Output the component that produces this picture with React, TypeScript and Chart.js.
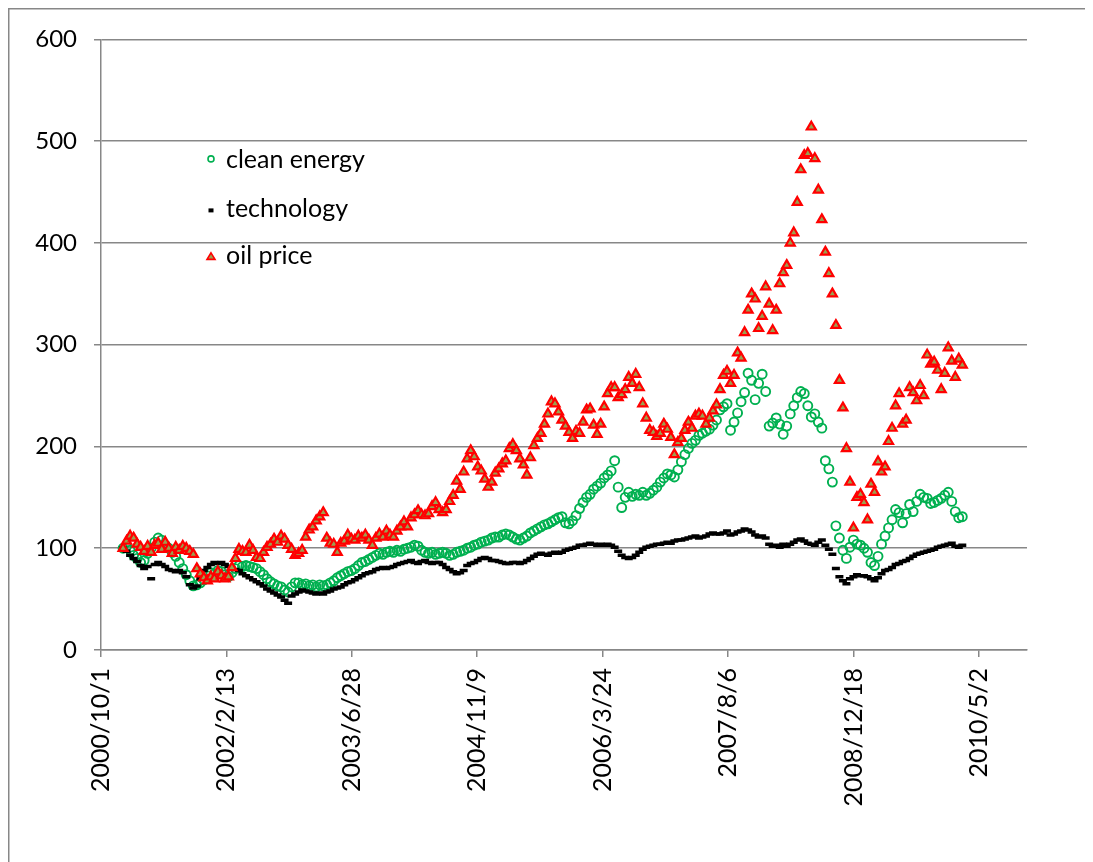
import React, { useEffect, useRef } from "react";
import { Chart, registerables } from "chart.js";

Chart.register(...registerables);

// ---------- data ----------
const axisStartDate = "2000-10-01";
const firstSampleDate = "2000-12-28";
const sampleStepDays = 14;
const xTickStepDays = 500;
const xAxisMaxDays = 3692;
const xTickLabels = [
  "2000/10/1",
  "2002/2/13",
  "2003/6/28",
  "2004/11/9",
  "2006/3/24",
  "2007/8/6",
  "2008/12/18",
  "2010/5/2",
];
const yMin = 0;
const yMax = 600;
const yStep = 100;
const seriesNames = ["clean energy", "technology", "oil price"];

const cleanEnergy = [
  100, 102, 98, 93, 90, 86, 88, 95, 100, 106,
  110, 108, 103, 100, 96, 92, 86, 80, 74, 68,
  63, 64, 66, 69, 73, 76, 75, 78, 77, 74,
  72, 76, 80, 83, 82, 83, 82, 81, 80, 77,
  74, 70, 67, 65, 63, 62, 59, 57, 62, 66,
  66, 64, 65, 63, 64, 62, 64, 63, 64, 66,
  68, 71, 73, 75, 77, 78, 80, 83, 86, 87,
  89, 91, 93, 95, 94, 96, 97, 96, 98, 97,
  99, 100, 101, 103, 102, 98, 96, 95, 96, 94,
  95, 96, 95, 93, 94, 96, 97, 98, 100, 101,
  103, 104, 106, 107, 108, 110, 111, 111, 113, 114,
  113, 111, 109, 108, 110, 112, 115, 117, 119, 121,
  123, 124, 126, 128, 130, 131, 125, 124, 127, 132,
  139, 145, 150, 153, 158, 161, 164, 169, 172, 176,
  186, 160, 140, 150, 155, 151, 153, 152, 155, 152,
  154, 157, 160, 165, 169, 173, 172, 170, 177, 185,
  192, 198, 203, 206, 211, 213, 215, 217, 221, 226,
  236, 239, 242, 216, 224, 233, 244, 253, 272, 265,
  246, 262, 271, 254, 220, 223, 228, 222, 212, 220,
  232, 240, 248, 254, 252, 240, 229, 232, 224, 218,
  186, 178, 165, 122, 110, 98, 90, 101, 108, 104,
  103, 100, 96, 86, 83, 92, 104, 112, 120, 128,
  138, 135, 125, 134, 143, 136, 146, 153, 150, 149,
  144, 145, 147, 149, 152, 155, 146, 136, 130, 131,
];

const technology = [
  100, 97, 93, 90, 87, 83, 80, 82, 70, 84,
  86, 84, 82, 79, 78, 77, 78, 76, 72, 64,
  61, 63, 70, 78, 81, 84, 86, 85, 86, 84,
  82, 80, 79, 78, 75, 73, 71, 69, 67, 65,
  63, 60, 58, 56, 54, 52, 49, 46, 53, 55,
  57, 59, 58, 57, 56, 55, 56, 55, 57, 58,
  60, 61, 62, 64, 66, 67, 69, 71, 73, 75,
  76, 77, 79, 80, 81, 80, 81, 82, 84, 85,
  86, 87, 88, 86, 85, 87, 88, 86, 85, 86,
  86, 84, 81, 79, 77, 75, 76, 78, 83, 85,
  86, 88, 90, 91, 90, 88, 88, 87, 86, 85,
  85, 86, 86, 85, 86, 88, 90, 92, 94, 95,
  94, 93, 95, 96, 95, 96, 98, 99, 100, 101,
  103, 103, 104, 105, 104, 103, 104, 103, 104, 103,
  101, 97, 93, 91, 90, 91, 93, 96, 99, 101,
  102, 103, 104, 104, 105, 106, 105, 107, 108, 108,
  109, 110, 111, 112, 110, 111, 112, 114, 115, 114,
  114, 115, 117, 113, 114, 116, 117, 119, 118, 116,
  113, 111, 112, 110, 104, 102, 103, 101, 104, 102,
  104, 106, 108, 109, 107, 105, 104, 103, 106, 108,
  103, 99, 94, 80, 72, 68, 65, 70, 72, 74,
  73, 73, 72, 70, 68, 71, 75, 78, 79, 81,
  84, 85, 87, 88, 90, 92, 94, 95, 96, 97,
  98, 99, 101, 102, 103, 104, 105, 102, 101, 103,
];

const oilPrice = [
  100, 107, 112, 110, 104, 101, 97, 102, 96, 103,
  105, 99, 106, 100, 95, 101, 98, 102, 100, 97,
  94, 80, 75, 71, 68, 72, 70, 77, 73, 70,
  72, 81, 90, 99, 97, 96, 103, 98, 91, 90,
  96, 101, 104, 109, 106, 112, 109, 103, 99, 93,
  95, 98, 111, 118, 121, 127, 131, 135, 110, 105,
  104, 96, 105, 107, 113, 109, 108, 112, 110, 113,
  108, 103, 110, 114, 111, 117, 113, 111, 117, 121,
  126, 121, 130, 133, 137, 133, 132, 134, 141, 145,
  138, 135, 138, 146, 152, 166, 158, 175, 188, 196,
  190, 180, 176, 168, 160, 165, 174, 178, 183, 186,
  198, 202, 196, 188, 182, 172, 189, 201, 208, 213,
  222, 232, 244, 242, 234, 226, 220, 214, 208, 215,
  213, 224, 236, 237, 221, 212, 222, 239, 252, 258,
  258, 248, 251, 256, 268, 262, 271, 258, 242, 228,
  216, 214, 210, 213, 222, 217, 209, 192, 204, 208,
  216, 224, 218, 230, 232, 230, 222, 228, 235, 241,
  256, 270, 274, 262, 270, 292, 287, 312, 334, 350,
  345, 316, 328, 357, 340, 314, 334, 360, 371, 378,
  400, 410, 440, 472, 486, 488, 514, 483, 452, 423,
  391, 370, 350, 319, 265, 238, 198, 165, 120, 150,
  153, 145, 128, 163, 155, 185, 175, 180, 205, 218,
  240, 252, 222, 226, 258, 253, 245, 260, 250, 290,
  281, 283, 275, 256, 272, 297, 284, 268, 286, 280,
];

// ---------- styles ----------
const CANVAS_W = 1085;
const CANVAS_H = 854;
const FONT = "Lato, 'Open Sans', 'Liberation Sans', sans-serif";
const GRID_COLOR = "#878787";
const CLEAN_COLOR = "#00B050";
const TECH_COLOR = "#000000";
const OIL_BORDER = "#FF0000";
const OIL_FILL = "#9BA050";

const DAY_MS = 86400000;
const dayOffset = (iso: string) =>
  Math.round((Date.parse(iso) - Date.parse(axisStartDate)) / DAY_MS);

function toPoints(values: number[]) {
  const start = dayOffset(firstSampleDate);
  return values.map((v, i) => ({ x: start + i * sampleStepDays, y: v }));
}

const frameBorder = {
  id: "frameBorder",
  beforeDraw(chart: any) {
    const { ctx, width, height } = chart;
    ctx.save();
    ctx.strokeStyle = GRID_COLOR;
    ctx.lineWidth = 1.5;
    ctx.beginPath();
    ctx.moveTo(0.75, height);
    ctx.lineTo(0.75, 0.75);
    ctx.lineTo(width, 0.75);
    ctx.stroke();
    ctx.restore();
  },
};

const insideLegend = {
  id: "insideLegend",
  afterDraw(chart: any) {
    const { ctx, chartArea } = chart;
    const mx = chartArea.left + 110;
    const ys = [120.5, 170, 217].map((d) => chartArea.top + d);
    ctx.save();
    ctx.strokeStyle = CLEAN_COLOR;
    ctx.lineWidth = 1.6;
    ctx.beginPath();
    ctx.arc(mx, ys[0] - 1, 3, 0, Math.PI * 2);
    ctx.stroke();
    ctx.fillStyle = TECH_COLOR;
    ctx.fillRect(mx - 2.5, ys[1] - 1, 5, 4);
    ctx.beginPath();
    ctx.moveTo(mx, ys[2] - 3.5);
    ctx.lineTo(mx + 4, ys[2] + 3);
    ctx.lineTo(mx - 4, ys[2] + 3);
    ctx.closePath();
    ctx.fillStyle = OIL_FILL;
    ctx.fill();
    ctx.strokeStyle = OIL_BORDER;
    ctx.lineWidth = 1.6;
    ctx.stroke();
    ctx.fillStyle = "#000";
    ctx.font = `25px ${FONT}`;
    ctx.textBaseline = "middle";
    ctx.textAlign = "left";
    seriesNames.forEach((name, k) => ctx.fillText(name, mx + 15, ys[k]));
    ctx.restore();
  },
};

export default function App() {
  const canvasRef = useRef<HTMLCanvasElement | null>(null);

  useEffect(() => {
    const canvas = canvasRef.current;
    if (!canvas) return;
    const chart = new Chart(canvas, {
      type: "scatter",
      data: {
        datasets: [
          {
            label: seriesNames[2],
            data: toPoints(oilPrice),
            order: 0,
            pointStyle: "triangle",
            pointRadius: 5.2,
            borderWidth: 2.2,
            borderColor: OIL_BORDER,
            backgroundColor: OIL_FILL,
            showLine: false,
          },
          {
            label: seriesNames[1],
            data: toPoints(technology),
            order: 1,
            pointStyle: "line",
            pointRadius: 4,
            borderWidth: 3.5,
            borderColor: TECH_COLOR,
            backgroundColor: TECH_COLOR,
            showLine: false,
          },
          {
            label: seriesNames[0],
            data: toPoints(cleanEnergy),
            order: 2,
            pointStyle: "circle",
            pointRadius: 4.5,
            borderWidth: 1.9,
            borderColor: CLEAN_COLOR,
            backgroundColor: "rgba(0,0,0,0)",
            showLine: false,
          },
        ],
      },
      options: {
        responsive: false,
        animation: false,
        devicePixelRatio: 1,
        events: [],
        layout: { padding: { top: 28.5, right: 66, left: 0, bottom: 0 } },
        plugins: {
          legend: { display: false },
          tooltip: { enabled: false },
          title: { display: false },
        },
        scales: {
          x: {
            type: "linear",
            min: 0,
            max: xAxisMaxDays,
            afterFit: (scale: any) => {
              scale.height = 212;
            },
            afterBuildTicks: (scale: any) => {
              scale.ticks = xTickLabels.map((_, k) => ({ value: k * xTickStepDays }));
            },
            ticks: {
              autoSkip: false,
              minRotation: 90,
              maxRotation: 90,
              padding: 11,
              color: "#000",
              font: { family: FONT, size: 25 },
              callback: (v: any) => {
                const n = Math.round(Number(v) / xTickStepDays);
                return xTickLabels[n] ?? "";
              },
            },
            grid: {
              drawOnChartArea: false,
              drawTicks: true,
              tickLength: 7,
              color: GRID_COLOR,
              lineWidth: 1.5,
            },
            border: { display: true, color: GRID_COLOR, width: 1.5 },
          },
          y: {
            type: "linear",
            min: yMin,
            max: yMax,
            afterFit: (scale: any) => {
              scale.width = 93;
            },
            ticks: {
              stepSize: yStep,
              padding: 17,
              color: "#000",
              font: { family: FONT, size: 24 },
            },
            grid: {
              color: GRID_COLOR,
              lineWidth: 1.5,
              tickLength: 7,
              drawTicks: true,
            },
            border: { display: true, color: GRID_COLOR, width: 1.5 },
          },
        },
      },
      plugins: [frameBorder, insideLegend],
    } as any);
    return () => chart.destroy();
  }, []);

  return (
    <canvas
      ref={canvasRef}
      width={CANVAS_W}
      height={CANVAS_H}
      style={{ display: "block", width: CANVAS_W, height: CANVAS_H }}
    />
  );
}
